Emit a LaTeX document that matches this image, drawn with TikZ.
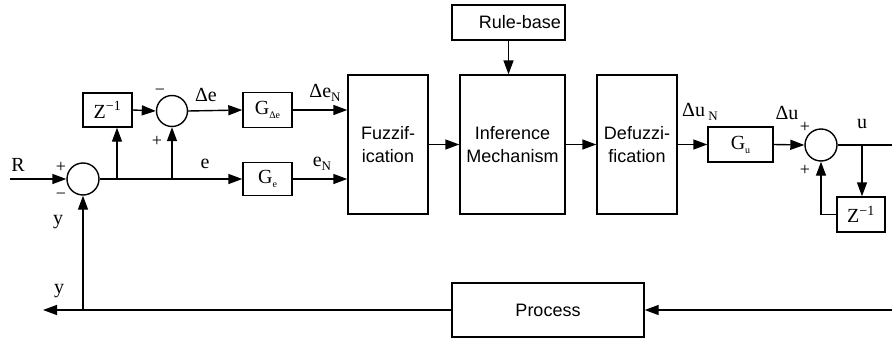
\documentclass[tikz,border=0pt]{standalone}
\usepackage{fontspec}
\setmainfont{Liberation Serif}
\newfontfamily\boxfont{Liberation Sans}
\usetikzlibrary{arrows.meta,calc}
\begin{document}
\begin{tikzpicture}[x=1pt,y=-1pt,
  line width=1.4pt,
  arr/.style={-{Triangle[length=14pt,width=10pt]}},
  blk/.style={draw,rectangle,inner sep=0pt,font=\fontsize{20}{22}\selectfont},
  bigblk/.style={draw,rectangle,inner sep=0pt,align=center,font=\boxfont\fontsize{18}{23}\selectfont},
  sumc/.style={draw,circle,minimum size=32pt,inner sep=0pt},
  lbl/.style={inner sep=0pt,font=\fontsize{20}{22}\selectfont},
  sgn/.style={inner sep=0pt,font=\fontsize{18}{20}\selectfont}]
\useasboundingbox (0,0) rectangle (892,340);
% nodes
\node[sumc] (s1) at (83,179) {};
\node[blk,minimum width=49pt,minimum height=34pt] (z1) at (107.5,110) {Z\textsuperscript{−1}};
\node[sumc,minimum size=31pt] (s2) at (172,111) {};
\node[blk,minimum width=49pt,minimum height=35pt] (gde) at (267.5,110) {G\raisebox{-4pt}{\fontsize{10}{10}\selectfont Δe}};
\node[blk,minimum width=49pt,minimum height=33pt] (ge) at (267.5,179) {G\raisebox{-4pt}{\fontsize{10}{10}\selectfont e}};
\node[bigblk,minimum width=80pt,minimum height=139pt] (fz) at (388,144.5) {Fuzzif-\\ication};
\node[bigblk,minimum width=105pt,minimum height=139pt] (inf) at (512.5,144.5) {Inference\\Mechanism};
\node[bigblk,minimum width=113pt,minimum height=35pt,text width=105pt,inner xsep=4pt,align=right] (rb) at (508.5,22.5) {Rule-base};
\node[bigblk,minimum width=80pt,minimum height=139pt] (dfz) at (637,144.5) {Defuzzi-\\fication};
\node[blk,minimum width=65pt,minimum height=35pt] (gu) at (740.5,144.5) {G\raisebox{-4pt}{\fontsize{10}{10}\selectfont u}};
\node[sumc] (s3) at (821,145) {};
\node[blk,minimum width=48pt,minimum height=35pt] (z2) at (861,214.5) {Z\textsuperscript{−1}};
\node[bigblk,minimum width=192pt,minimum height=54pt] (pr) at (548,310) {Process};
% coordinates
\coordinate (rin) at (10,179);
\coordinate (b1) at (117,179);
\coordinate (b2) at (172,179);
\coordinate (uend) at (892,145);
\coordinate (b3) at (862,145);
\coordinate (pin) at (892,310);
\coordinate (yout) at (43,310);
\coordinate (b4) at (83,310);
% connectors
\draw[arr] (rin) -- (s1.west);
\draw[arr] (s1.east) -- (ge.west);
\draw[arr] (b1) -- (b1 |- z1.south);
\draw[arr] (b2) -- (s2.south);
\draw[arr] (z1.east) -- (s2.west);
\draw[arr] (s2.east) -- (gde.west);
\draw[arr] (gde.east) -- (gde.east -| fz.west);
\draw[arr] (ge.east) -- (ge.east -| fz.west);
\draw[arr] (fz.east) -- (inf.west);
\draw[arr] (rb.south) -- (rb.south |- inf.north);
\draw[arr] (inf.east) -- (dfz.west);
\draw[arr] (dfz.east) -- (gu.west);
\draw[arr] (gu.east) -- (s3.west);
\draw (s3.east) -- (uend);
\draw[arr] (b3) -- (b3 |- z2.north);
\draw[arr] (z2.west) -| (s3.south);
\draw[arr] (pin) -- (pr.east);
\draw[arr] (pr.west) -- (yout);
\draw[arr] (b4) -- (s1.south);
% labels
\node[lbl] at (18,165) {R};
\node[sgn] at (61,167) {+};
\node[sgn] at (61,196) {−};
\node[lbl] at (58,222) {y};
\node[lbl] at (59,291) {y};
\node[sgn] at (160,92) {−};
\node[sgn] at (157,141) {+};
\node[lbl] at (206,95) {Δe};
\node[lbl] at (205,164) {e};
\node[lbl] at (325,93) {Δe\raisebox{-4pt}{\fontsize{13}{13}\selectfont N}};
\node[lbl] at (322,164) {e\raisebox{-4pt}{\fontsize{13}{13}\selectfont N}};
\node[lbl] at (700,112) {Δu\,\raisebox{-4pt}{\fontsize{13}{13}\selectfont N}};
\node[lbl] at (787,113) {Δu};
\node[sgn] at (805,127) {+};
\node[sgn] at (805,170) {+};
\node[lbl] at (862,124) {u};
\end{tikzpicture}
\end{document}
